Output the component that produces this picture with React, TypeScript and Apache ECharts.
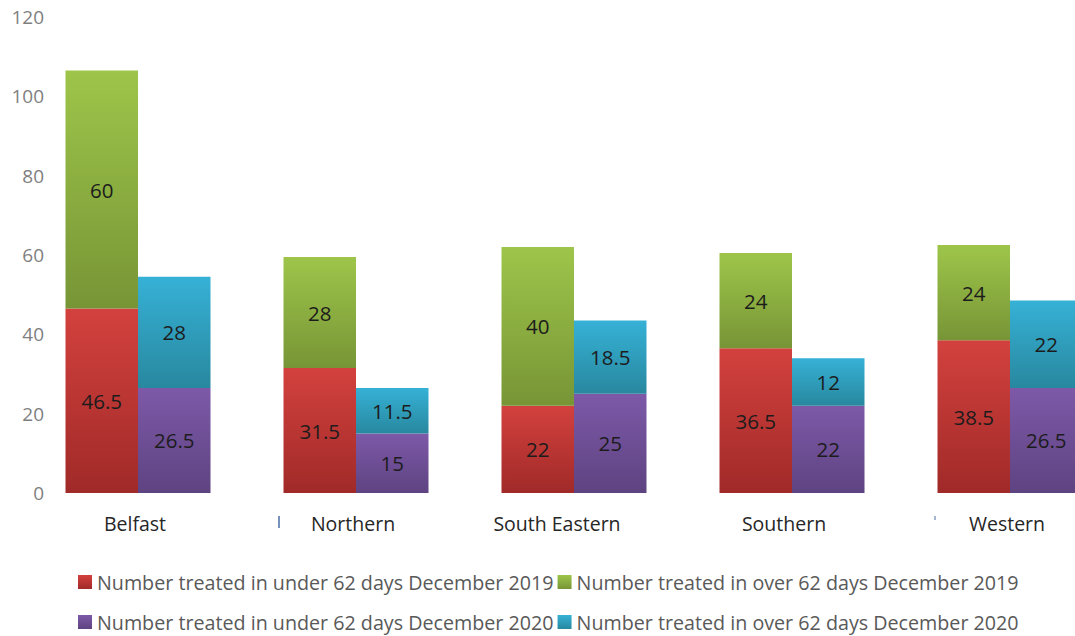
import React, { useEffect, useRef } from "react";
import * as echarts from "echarts";

const categories = ["Belfast", "Northern", "South Eastern", "Southern", "Western"];
const under2019 = [46.5, 31.5, 22, 36.5, 38.5];
const over2019 = [60, 28, 40, 24, 24];
const under2020 = [26.5, 15, 25, 22, 26.5];
const over2020 = [28, 11.5, 18.5, 12, 22];
const yTicks = { min: 0, max: 120, interval: 20 };
const seriesNames = [
  "Number treated in under 62 days December 2019",
  "Number treated in over 62 days December 2019",
  "Number treated in under 62 days December 2020",
  "Number treated in over 62 days December 2020",
];

const FONT = "'Open Sans'";

function grad(top: string, bottom: string) {
  return new echarts.graphic.LinearGradient(0, 0, 0, 1, [
    { offset: 0, color: top },
    { offset: 1, color: bottom },
  ]);
}

export default function App() {
  const ref = useRef<HTMLDivElement>(null);
  useEffect(() => {
    if (!ref.current) return;
    const chart = echarts.init(ref.current, undefined, { renderer: "svg" });
    const label = {
      show: true,
      position: "inside",
      color: "#1c1c1c",
      fontSize: 20.5,
      fontFamily: FONT,
    };
    const mk = (name: string, data: number[], stack: string, top: string, bottom: string) => ({
      name,
      type: "bar",
      stack,
      data,
      barWidth: 72.5,
      barGap: "0%",
      label,
      itemStyle: { color: grad(top, bottom) },
    });
    const series = [
      mk(seriesNames[0], under2019, "a", "#d3413e", "#a02a28"),
      mk(seriesNames[1], over2019, "a", "#9ec54a", "#779536"),
      mk(seriesNames[2], under2020, "b", "#7d59a8", "#5e4381"),
      mk(seriesNames[3], over2020, "b", "#36b1d6", "#28889f"),
    ];
    const legendBase = {
      left: 73,
      orient: "horizontal",
      itemWidth: 14,
      itemHeight: 14,
      itemGap: 4,
      icon: "rect",
      textStyle: { color: "#595959", fontSize: 19.7, fontFamily: FONT, lineHeight: 20 },
    };
    chart.setOption({
      animation: false,
      backgroundColor: "#ffffff",
      grid: { left: 29, top: 17, width: 1090, height: 476, containLabel: false },
      legend: [
        { ...legendBase, top: 567, data: [seriesNames[0], seriesNames[1]] },
        { ...legendBase, top: 607, data: [seriesNames[2], seriesNames[3]] },
      ],
      xAxis: {
        type: "category",
        data: categories.map((c) =>
          c === "South Eastern"
            ? { value: c, textStyle: { padding: [0, 34, 6, 0] } }
            : c === "Southern"
            ? { value: c, textStyle: { padding: [0, 16, 0, 0] } }
            : { value: c, textStyle: { padding: [0, 6, 0, 0] } }
        ),
        axisLine: { show: false },
        axisTick: { show: false },
        axisLabel: { color: "#262626", fontSize: 19.5, fontFamily: FONT, margin: 20 },
      },
      yAxis: {
        type: "value",
        min: yTicks.min,
        max: yTicks.max,
        interval: yTicks.interval,
        axisLine: { show: false },
        axisTick: { show: false },
        splitLine: { show: false },
        axisLabel: { color: "#7f7f7f", fontSize: 19, fontFamily: FONT, margin: -15 },
      },
      graphic: [
        { type: "line", shape: { x1: 279, y1: 516, x2: 279, y2: 528 }, style: { stroke: "#4a6fa5", lineWidth: 1.5 } },
        { type: "line", shape: { x1: 935, y1: 516, x2: 935, y2: 520 }, style: { stroke: "#4a6fa5", lineWidth: 1 } },
      ],
      series,
    });
    return () => chart.dispose();
  }, []);
  return (
    <div style={{ position: "absolute", left: 0, top: 0, width: 1075, height: 636, overflow: "hidden", background: "#fff" }}>
      <div ref={ref} style={{ position: "absolute", left: 0, top: 0, width: 1130, height: 636 }} />
    </div>
  );
}
